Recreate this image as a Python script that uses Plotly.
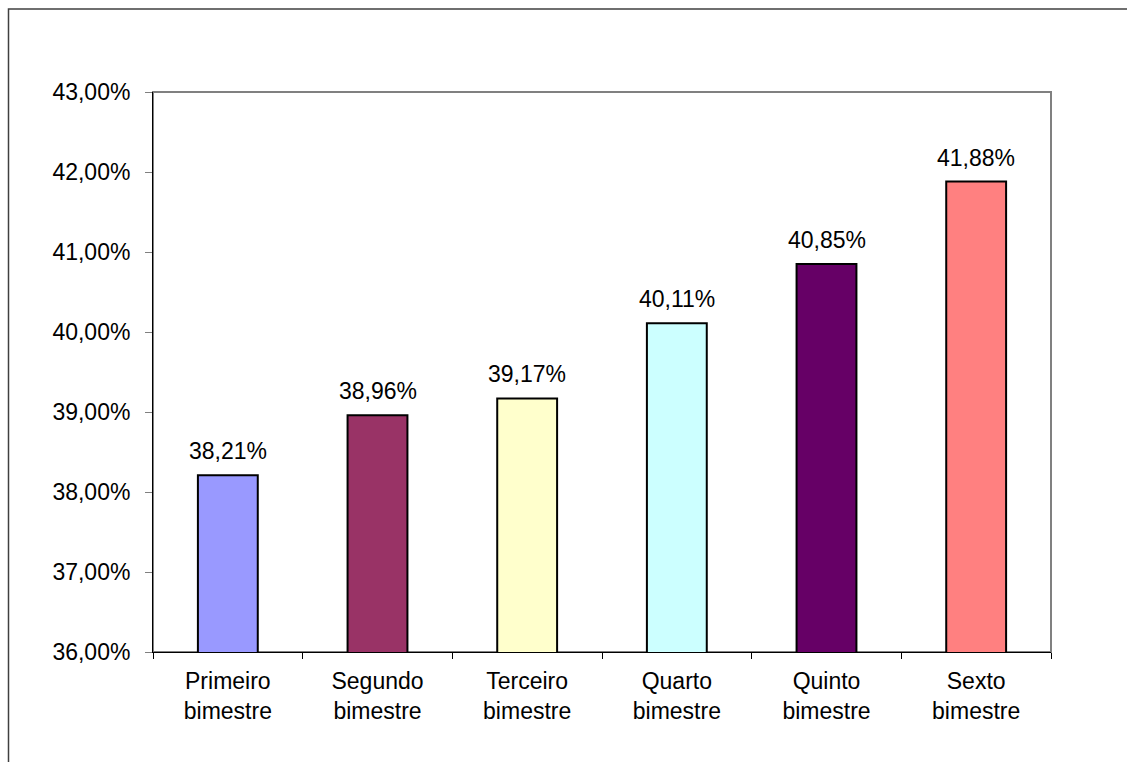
import plotly.graph_objects as go

categories = ["Primeiro<br>bimestre", "Segundo<br>bimestre", "Terceiro<br>bimestre",
              "Quarto<br>bimestre", "Quinto<br>bimestre", "Sexto<br>bimestre"]
values = [0.3821, 0.3896, 0.3917, 0.4011, 0.4085, 0.4188]
colors = ["#9999FF", "#993366", "#FFFFCC", "#CCFFFF", "#660066", "#FF8080"]
tick_vals = [0.36, 0.37, 0.38, 0.39, 0.40, 0.41, 0.42, 0.43]

W, H = 1127, 762
L, R, T, B = 153, 1051, 92, 652
FONT = "Liberation Sans, Arial"
FS = 23

fig = go.Figure(go.Bar(
    x=categories, y=values,
    marker=dict(color=colors, line=dict(color="black", width=2)),
    width=0.4,
))

for c, v in zip(categories, values):
    fig.add_annotation(
        x=c, y=v, xref="x", yref="y",
        text=f"{v * 100:.2f}%".replace(".", ","),
        showarrow=False, yanchor="bottom", yshift=9,
        font=dict(family=FONT, size=FS, color="black"),
    )

def px_x(p):
    return (p - L) / (R - L)

def px_y(p):
    return (B - p) / (B - T)

fig.update_layout(
    width=W, height=H,
    margin=dict(l=L, r=W - R, t=T, b=H - B),
    paper_bgcolor="white", plot_bgcolor="white",
    separators=",.",
    showlegend=False,
    font=dict(family=FONT, size=FS, color="black"),
    xaxis=dict(
        type="category", showgrid=False, showline=True, linecolor="black", linewidth=1,
        ticks="outside", tickson="boundaries", ticklen=6, tickcolor="black",
        tickfont=dict(size=FS), ticklabelstandoff=8,
    ),
    yaxis=dict(
        range=[0.36, 0.43], tickvals=tick_vals, tickformat=".2%",
        showgrid=False, showline=True, linecolor="black", linewidth=1,
        ticks="outside", ticklen=7, tickcolor="#808080", zeroline=False,
        tickfont=dict(size=FS), ticklabelstandoff=10,
    ),
    shapes=[
        dict(type="rect", xref="paper", yref="paper", x0=0, x1=1, y0=0, y1=1,
             line=dict(color="#808080", width=2), layer="below"),
        dict(type="rect", xref="paper", yref="paper",
             x0=px_x(8.5), x1=px_x(1140), y0=px_y(775), y1=px_y(9),
             line=dict(color="#404040", width=1.5), layer="below"),
    ],
)

fig.write_html("out.html")
